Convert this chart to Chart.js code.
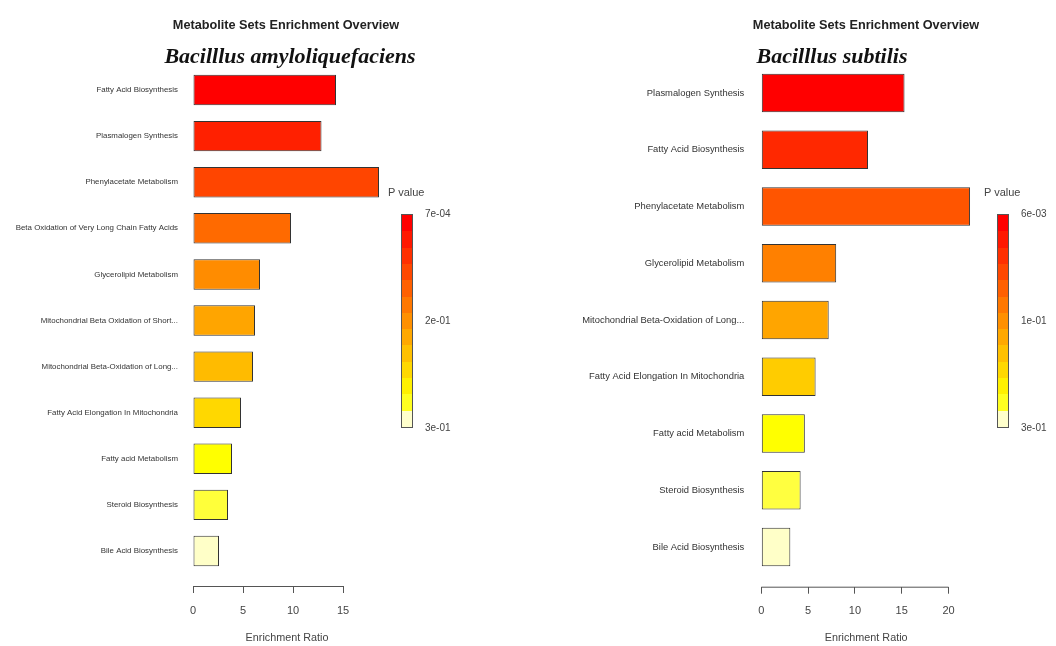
<!DOCTYPE html>
<html>
<head>
<meta charset="utf-8">
<script src="https://cdn.jsdelivr.net/npm/chart.js@4"></script>
<style>
  body { margin: 0; background: #fff; }
  #page { position: relative; width: 1056px; height: 646px; overflow: hidden; font-family: "Liberation Sans", Arial, sans-serif; }
  .box { position: absolute; top: 0; }
  .txt { position: absolute; transform: translate(-50%, -50%); white-space: nowrap; line-height: 1; }
  .title { font-size: 12.7px; font-weight: bold; color: #222; }
  .sub { font-family: "Liberation Serif", "Times New Roman", serif; font-style: italic; font-weight: bold; font-size: 22px; color: #111; }
  .leg { position: absolute; font-size: 10px; color: #444; white-space: nowrap; line-height: 1; }
  .bar { position: absolute; width: 12px; border: 1px solid #555; box-sizing: border-box; }
</style>
</head>
<body>
<div id="page">
  <div class="box" style="left:0;width:400px;height:646px"><canvas id="leftChart" width="400" height="646"></canvas></div>
  <div class="box" style="left:560px;width:440px;height:646px"><canvas id="rightChart" width="440" height="646"></canvas></div>

  <div class="txt title" style="left:286px;top:25px">Metabolite Sets Enrichment Overview</div>
  <div class="txt sub" style="left:290px;top:56px">Bacilllus amyloliquefaciens</div>
  <div class="txt title" style="left:866px;top:25px">Metabolite Sets Enrichment Overview</div>
  <div class="txt sub" style="left:832px;top:56px">Bacilllus subtilis</div>

  <div id="leftLegend"></div>
  <div id="rightLegend"></div>
</div>

<script>
// Bacillus amyloliquefaciens
const leftSets = [
  'Fatty Acid Biosynthesis',
  'Plasmalogen Synthesis',
  'Phenylacetate Metabolism',
  'Beta Oxidation of Very Long Chain Fatty Acids',
  'Glycerolipid Metabolism',
  'Mitochondrial Beta Oxidation of Short...',
  'Mitochondrial Beta-Oxidation of Long...',
  'Fatty Acid Elongation In Mitochondria',
  'Fatty acid Metabolism',
  'Steroid Biosynthesis',
  'Bile Acid Biosynthesis'
];
const leftRatios = [14.3, 12.85, 18.6, 9.8, 6.7, 6.2, 6.0, 4.8, 3.9, 3.5, 2.6];
const leftColors = ['#FF0000', '#FF2000', '#FF4500', '#FF6A00', '#FF8C00', '#FFA500',
                    '#FFBB00', '#FFD800', '#FFFF00', '#FFFF3A', '#FFFFC8'];
const leftTicks = [0, 5, 10, 15];
const leftPLabels = ['7e-04', '2e-01', '3e-01'];

// Bacillus subtilis
const rightSets = [
  'Plasmalogen Synthesis',
  'Fatty Acid Biosynthesis',
  'Phenylacetate Metabolism',
  'Glycerolipid Metabolism',
  'Mitochondrial Beta-Oxidation of Long...',
  'Fatty Acid Elongation In Mitochondria',
  'Fatty acid Metabolism',
  'Steroid Biosynthesis',
  'Bile Acid Biosynthesis'
];
const rightRatios = [15.3, 11.4, 22.3, 8.0, 7.2, 5.8, 4.65, 4.2, 3.1];
const rightColors = ['#FF0000', '#FF2800', '#FF5500', '#FF8000', '#FFA500',
                     '#FFCC00', '#FFFF00', '#FFFF40', '#FFFFC8'];
const rightTicks = [0, 5, 10, 15, 20];
const rightPLabels = ['6e-03', '1e-01', '3e-01'];

// colour key steps, top to bottom
const keySteps = ['#FF0000', '#FF1800', '#FF3000', '#FF4800', '#FF6000', '#FF7800',
                  '#FF9000', '#FFA800', '#FFC000', '#FFD800', '#FFF000', '#FFFF20', '#FFFFCC'];

// axis line only spans the tick range, like base R
const axisLine = {
  id: 'axisLine',
  afterDraw(chart) {
    const x = chart.scales.x;
    const t = x.ticks;
    const ctx = chart.ctx;
    ctx.save();
    ctx.strokeStyle = '#555';
    ctx.lineWidth = 1;
    ctx.beginPath();
    ctx.moveTo(x.getPixelForValue(t[0].value), x.top + 0.5);
    ctx.lineTo(x.getPixelForValue(t[t.length - 1].value), x.top + 0.5);
    ctx.stroke();
    ctx.restore();
  }
};

function drawPanel(canvasId, sets, ratios, colors, ticks, cfg) {
  new Chart(document.getElementById(canvasId), {
    type: 'bar',
    data: {
      datasets: [{
        data: ratios.map((v, i) => ({ x: v, y: i })),
        backgroundColor: colors,
        borderColor: '#333',
        borderWidth: 1,
        borderSkipped: false,
        categoryPercentage: 1,
        barPercentage: cfg.barPct,
        clip: false
      }]
    },
    options: {
      indexAxis: 'y',
      responsive: false,
      animation: false,
      layout: { padding: { top: cfg.top, right: cfg.right, left: 0, bottom: 0 } },
      plugins: { legend: { display: false }, tooltip: { enabled: false } },
      scales: {
        y: {
          type: 'linear',
          offset: false,
          reverse: true,
          min: -0.5,
          max: sets.length - 0.5 + cfg.gap,
          afterBuildTicks: s => { s.ticks = sets.map((c, i) => ({ value: i })); },
          afterFit: s => { s.width = cfg.yWidth; },
          grid: { display: false, drawTicks: false, offset: false },
          border: { display: false },
          ticks: {
            autoSkip: false,
            padding: cfg.labelPad,
            color: '#333',
            font: { size: cfg.labelSize, family: 'Liberation Sans' },
            callback: v => sets[v]
          }
        },
        x: {
          type: 'linear',
          min: 0,
          max: cfg.xMax,
          afterBuildTicks: s => { s.ticks = ticks.map(v => ({ value: v })); },
          afterFit: s => { s.height = cfg.xHeight; },
          grid: { drawOnChartArea: false, drawTicks: true, tickLength: 7, color: '#555', tickColor: '#555' },
          border: { display: false },
          ticks: { padding: 11, color: '#444', font: { size: 11, family: 'Liberation Sans' } },
          title: {
            display: true,
            text: 'Enrichment Ratio',
            color: '#444',
            font: { size: 10.8, family: 'Liberation Sans' },
            padding: { top: 0, bottom: 1 }
          }
        }
      }
    },
    plugins: [axisLine]
  });
}

function drawKey(el, left, labels) {
  const h = 214, top = 214;
  const seg = 100 / keySteps.length;
  const stops = keySteps.map((c, i) => `${c} ${(i * seg).toFixed(2)}%, ${c} ${((i + 1) * seg).toFixed(2)}%`).join(', ');
  let html = `<div class="leg" style="left:${left - 13}px;top:${top - 27}px;font-size:11px">P value</div>`;
  html += `<div class="bar" style="left:${left}px;top:${top}px;height:${h}px;background:linear-gradient(to bottom, ${stops})"></div>`;
  labels.forEach((l, i) => {
    html += `<div class="leg" style="left:${left + 24}px;top:${top - 5 + i * h / 2}px">${l}</div>`;
  });
  el.innerHTML = html;
}

drawPanel('leftChart', leftSets, leftRatios, leftColors, leftTicks,
  { top: 67, right: 19, yWidth: 193, xHeight: 60, gap: 0.26, xMax: 18.8, barPct: 0.66, labelPad: 15, labelSize: 7.9 });
drawPanel('rightChart', rightSets, rightRatios, rightColors, rightTicks,
  { top: 64.6, right: 29, yWidth: 201.3, xHeight: 59.3, gap: 0.2, xMax: 22.4, barPct: 0.68, labelPad: 17, labelSize: 9.4 });

drawKey(document.getElementById('leftLegend'), 401, leftPLabels);
drawKey(document.getElementById('rightLegend'), 997, rightPLabels);
</script>
</body>
</html>
